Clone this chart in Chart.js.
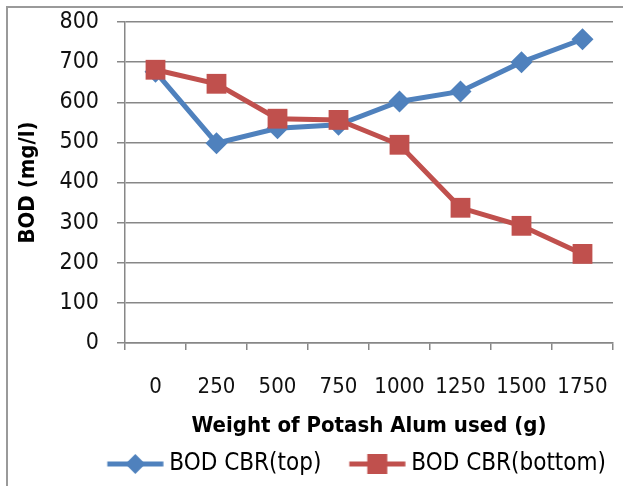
<!DOCTYPE html>
<html>
<head>
<meta charset="utf-8">
<script src="https://cdn.jsdelivr.net/npm/chart.js@4.4.1/dist/chart.umd.min.js"></script>
<style>
  html, body { margin: 0; padding: 0; background: #fff; }
</style>
</head>
<body>
<canvas id="bodChart" width="623" height="486"></canvas>
<script>
// data
const weights = ['0', '250', '500', '750', '1000', '1250', '1500', '1750'];
const bodTop = [676, 498, 535, 544, 602, 627, 700, 757];
const bodBottom = [681, 646, 559, 556, 494, 337, 292, 222];
const yMin = 0;
const yMax = 800;
const yStep = 100;

const BLUE = '#4F81BD';
const RED = '#C0504D';
const GRID = '#878787';
const FONT = "'Liberation Sans Narrow', 'DejaVu Sans Condensed', sans-serif";

// little line + marker picture for the legend, like Excel draws it
// (blank strip on the left gives the gap between legend entries)
function legendIcon(color, style) {
    const c = document.createElement('canvas');
    c.width = 84;
    c.height = 24;
    const g = c.getContext('2d');
    g.strokeStyle = color;
    g.lineWidth = 5;
    g.beginPath();
    g.moveTo(27.5, 12);
    g.lineTo(83.5, 12);
    g.stroke();
    g.fillStyle = color;
    const mx = 55.5;
    if (style === 'diamond') {
        g.beginPath();
        g.moveTo(mx, 2);
        g.lineTo(mx + 10, 12);
        g.lineTo(mx, 22);
        g.lineTo(mx - 10, 12);
        g.closePath();
        g.fill();
    } else {
        g.fillRect(mx - 10, 2, 20, 20);
    }
    return c;
}

// outer frame, only left and top edges visible in the reference
const framePlugin = {
    id: 'frame',
    beforeDraw(chart) {
        const ctx = chart.ctx;
        ctx.save();
        ctx.strokeStyle = '#9a9a9a';
        ctx.lineWidth = 2;
        ctx.beginPath();
        ctx.moveTo(7, chart.height);
        ctx.lineTo(7, 7);
        ctx.lineTo(chart.width, 7);
        ctx.stroke();
        ctx.restore();
    }
};

// keep tick label padding from eating into the plot area
function noEdgePadding(scale) {
    scale.paddingLeft = 0;
    scale.paddingRight = 0;
    scale.paddingTop = 0;
    scale.paddingBottom = 0;
}

const data = {
    labels: weights,
    datasets: [
        {
            label: 'BOD CBR(top)',
            data: bodTop,
            borderColor: BLUE,
            backgroundColor: BLUE,
            borderWidth: 5,
            pointStyle: 'rectRot',
            pointRadius: 11,
            pointHoverRadius: 11,
            pointBorderWidth: 0,
            tension: 0,
            clip: false,
            order: 2
        },
        {
            label: 'BOD CBR(bottom)',
            data: bodBottom,
            borderColor: RED,
            backgroundColor: RED,
            borderWidth: 5,
            pointStyle: 'rect',
            pointRadius: 14,
            pointHoverRadius: 14,
            pointBorderWidth: 0,
            tension: 0,
            clip: false,
            order: 1
        }
    ]
};

const config = {
    type: 'line',
    data: data,
    plugins: [framePlugin],
    options: {
        responsive: false,
        animation: false,
        layout: {
            autoPadding: false,
            padding: {left: 8, right: 10, top: 22, bottom: 0}
        },
        plugins: {
            title: {display: false},
            tooltip: {enabled: false},
            legend: {
                display: true,
                position: 'bottom',
                align: 'end',
                labels: {
                    usePointStyle: true,
                    pointStyleWidth: 71,
                    boxHeight: 22,
                    padding: 7,
                    color: '#111',
                    font: {family: FONT, size: 24},
                    generateLabels: (chart) => chart.data.datasets.map((ds, i) => ({
                        text: ds.label,
                        pointStyle: legendIcon(ds.borderColor, i === 0 ? 'diamond' : 'square'),
                        fillStyle: ds.borderColor,
                        strokeStyle: ds.borderColor,
                        lineWidth: 0,
                        hidden: false,
                        datasetIndex: i
                    }))
                }
            }
        },
        scales: {
            x: {
                offset: true,
                title: {
                    display: true,
                    text: 'Weight of Potash Alum used (g)',
                    color: '#000',
                    font: {family: FONT, size: 22, weight: 'bold'},
                    padding: {top: 6, bottom: 6}
                },
                grid: {
                    offset: true,
                    drawOnChartArea: false,
                    drawTicks: true,
                    tickLength: 7,
                    color: GRID,
                    lineWidth: 1.5
                },
                border: {display: true, color: GRID, width: 1.5},
                ticks: {
                    color: '#111',
                    padding: 24,
                    maxRotation: 0,
                    font: {family: FONT, size: 22}
                },
                beforeFit: (scale) => { scale._handleMargins = () => {}; },
                afterFit: (scale) => {
                    scale.height = 102;
                    noEdgePadding(scale);
                }
            },
            y: {
                min: yMin,
                max: yMax,
                title: {
                    display: true,
                    text: 'BOD (mg/l)',
                    color: '#000',
                    font: {family: FONT, size: 22, weight: 'bold'},
                    padding: {top: 7, bottom: 0}
                },
                grid: {
                    drawTicks: true,
                    tickLength: 8,
                    color: GRID,
                    lineWidth: 1.5
                },
                border: {display: true, color: GRID, width: 1.5},
                ticks: {
                    stepSize: yStep,
                    color: '#111',
                    padding: 18,
                    font: {family: FONT, size: 23}
                },
                beforeFit: (scale) => { scale._handleMargins = () => {}; },
                afterFit: (scale) => {
                    scale.width = 117;
                    noEdgePadding(scale);
                }
            }
        }
    }
};

const bodChart = new Chart(document.getElementById('bodChart'), config);
</script>
</body>
</html>
